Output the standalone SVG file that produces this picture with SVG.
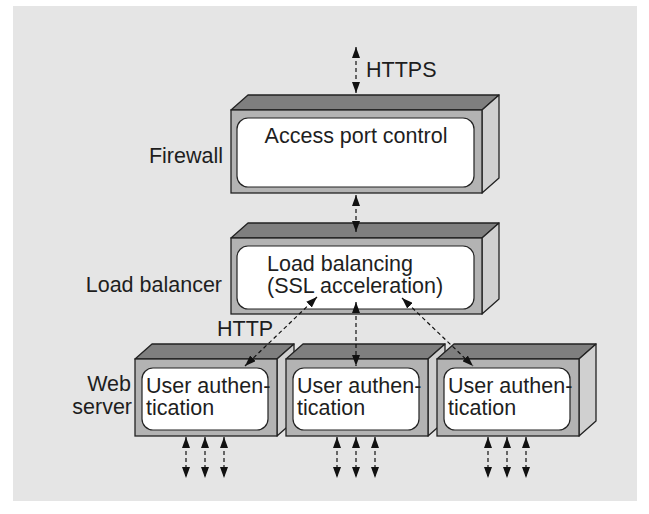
<svg xmlns="http://www.w3.org/2000/svg" width="649" height="514" viewBox="0 0 649 514">
  <style>
    .bg { fill: #e5e5e5; }
    .front { fill: #b3b3b3; stroke: #222; stroke-width: 1.3; }
    .top { fill: #7f7f7f; stroke: #222; stroke-width: 1.3; stroke-linejoin: round; }
    .side { fill: #d0d0d0; stroke: #222; stroke-width: 1.3; stroke-linejoin: round; }
    .panel { fill: #fff; stroke: #222; stroke-width: 1.2; }
    text { font-family: "Liberation Sans", Arial, sans-serif; font-size: 21.5px; fill: #1e1e1e; }
    .link { stroke: #111; stroke-width: 1.2; stroke-dasharray: 4 3; fill: none; marker-start: url(#head); marker-end: url(#head); }
  </style>
  <defs>
    <marker id="head" markerUnits="userSpaceOnUse" markerWidth="11" markerHeight="8" refX="11" refY="4" orient="auto-start-reverse">
      <path d="M0,0 L11,4 L0,8 z" fill="#111"/>
    </marker>
  </defs>

  <rect class="bg" x="13" y="6" width="624" height="495"/>

  <!-- Firewall -->
  <g id="firewall">
    <polygon class="top" points="231,110 248,95 499,95 482,110"/>
    <polygon class="side" points="482,110 499,95 499,178 482,193"/>
    <rect class="front" x="231" y="110" width="251" height="83"/>
    <rect class="panel" x="237" y="118" width="237" height="69" rx="11"/>
    <text x="356" y="143" text-anchor="middle">Access port control</text>
    <text x="223" y="163" text-anchor="end">Firewall</text>
  </g>

  <!-- Load balancer -->
  <g id="load-balancer">
    <polygon class="top" points="231,238 248,223 499,223 482,238"/>
    <polygon class="side" points="482,238 499,223 499,299 482,314"/>
    <rect class="front" x="231" y="238" width="251" height="76"/>
    <rect class="panel" x="237" y="246" width="237" height="63" rx="11"/>
    <text x="267" y="271">Load balancing</text>
    <text x="267" y="293">(SSL acceleration)</text>
    <text x="222" y="292" text-anchor="end">Load balancer</text>
  </g>

  <!-- Web servers -->
  <g id="web-server-1">
    <polygon class="top" points="135,359 152,344 294,344 277,359"/>
    <polygon class="side" points="277,359 294,344 294,421 277,436"/>
    <rect class="front" x="135" y="359" width="142" height="77"/>
    <rect class="panel" x="142" y="368" width="126" height="62" rx="11"/>
    <text x="146" y="393">User authen-</text>
    <text x="146" y="415">tication</text>
  </g>
  <g id="web-server-2">
    <polygon class="top" points="286,359 303,344 445,344 428,359"/>
    <polygon class="side" points="428,359 445,344 445,421 428,436"/>
    <rect class="front" x="286" y="359" width="142" height="77"/>
    <rect class="panel" x="293" y="368" width="126" height="62" rx="11"/>
    <text x="297" y="393">User authen-</text>
    <text x="297" y="415">tication</text>
  </g>
  <g id="web-server-3">
    <polygon class="top" points="437,359 454,344 596,344 579,359"/>
    <polygon class="side" points="579,359 596,344 596,421 579,436"/>
    <rect class="front" x="437" y="359" width="142" height="77"/>
    <rect class="panel" x="444" y="368" width="126" height="62" rx="11"/>
    <text x="448" y="393">User authen-</text>
    <text x="448" y="415">tication</text>
  </g>
  <g id="web-server-label">
    <text x="131" y="391" text-anchor="end">Web</text>
    <text x="132" y="414" text-anchor="end">server</text>
  </g>

  <!-- Connectors -->
  <g id="connectors">
    <line class="link" x1="356" y1="47" x2="356" y2="93"/>
    <line class="link" x1="356" y1="195" x2="356" y2="232"/>
    <line class="link" x1="356" y1="302" x2="356" y2="366"/>
    <line class="link" x1="317" y1="297" x2="245" y2="366"/>
    <line class="link" x1="402" y1="298" x2="473" y2="366"/>
    <line class="link" x1="186" y1="437" x2="186" y2="478"/>
    <line class="link" x1="205" y1="437" x2="205" y2="478"/>
    <line class="link" x1="224" y1="437" x2="224" y2="478"/>
    <line class="link" x1="337" y1="437" x2="337" y2="478"/>
    <line class="link" x1="356" y1="437" x2="356" y2="478"/>
    <line class="link" x1="375" y1="437" x2="375" y2="478"/>
    <line class="link" x1="488" y1="437" x2="488" y2="478"/>
    <line class="link" x1="507" y1="437" x2="507" y2="478"/>
    <line class="link" x1="526" y1="437" x2="526" y2="478"/>
    <text x="366" y="77">HTTPS</text>
    <text x="217" y="336">HTTP</text>
  </g>
</svg>
